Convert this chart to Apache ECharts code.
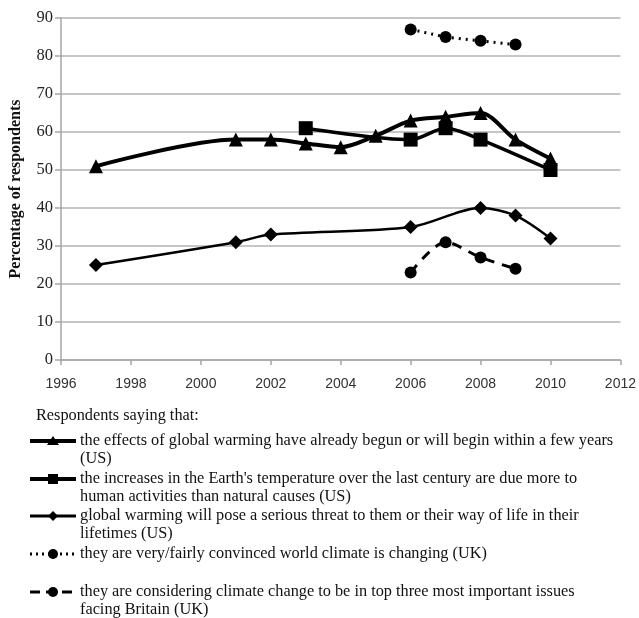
<!DOCTYPE html>
<html><head><meta charset="utf-8">
<script src="https://cdn.jsdelivr.net/npm/echarts@6/dist/echarts.min.js"></script>
<style>html,body{margin:0;padding:0;background:#fff}#c{width:639px;height:618px}</style>
</head><body><div id="c"></div>
<script>
const years1 = [1997, 2001, 2002, 2003, 2004, 2005, 2006, 2007, 2008, 2009, 2010];
const effects = [51, 58, 58, 57, 56, 59, 63, 64, 65, 58, 53];
const years2 = [2003, 2006, 2007, 2008, 2010];
const human = [61, 58, 61, 58, 50];
const years3 = [1997, 2001, 2002, 2006, 2008, 2009, 2010];
const threat = [25, 31, 33, 35, 40, 38, 32];
const years4 = [2006, 2007, 2008, 2009];
const convinced = [87, 85, 84, 83];
const years5 = [2006, 2007, 2008, 2009];
const topThree = [23, 31, 27, 24];
const legendTitle = 'Respondents saying that:';
const names = [
  'the effects of global warming have already begun or will begin within a few years\n(US)',
  'the increases in the Earth\'s temperature over the last century are due more to\nhuman activities than natural causes (US)',
  'global warming will pose a serious threat to them or their way of life in their\nlifetimes (US)',
  'they are very/fairly convinced world climate is changing (UK)',
  'they are considering climate change to be in top three most important issues\nfacing Britain (UK)'
];
const FONT = 'Liberation Serif';
const pair = (xs, ys) => xs.map((x, i) => [x, ys[i]]);
const chart = echarts.init(document.getElementById('c'), null, {renderer: 'canvas'});
const triPath = 'path://M0,-1L1,0.75L-1,0.75Z';
const diaPath = 'path://M0,-1L1,0L0,1L-1,0Z';
function legendItem(i, y, symbol, lineType, width) {
  const els = [];
  els.push({type: 'line', shape: {x1: 30, y1: y, x2: 76, y2: y},
    style: {stroke: '#000', lineWidth: width, lineDash: lineType}});
  if (symbol === 'tri') els.push({type: 'polygon', shape: {points: [[53, y - 5], [59, y + 4], [47, y + 4]]}, style: {fill: '#000'}});
  if (symbol === 'sq') els.push({type: 'rect', shape: {x: 48, y: y - 5, width: 10, height: 10}, style: {fill: '#000'}});
  if (symbol === 'dia') els.push({type: 'polygon', shape: {points: [[53, y - 5], [58, y], [53, y + 5], [48, y]]}, style: {fill: '#000'}});
  if (symbol === 'circ') els.push({type: 'circle', shape: {cx: 53, cy: y, r: 5}, style: {fill: '#000'}});
  els.push({type: 'text', x: 80, y: y - 9, style: {text: names[i], font: '16.3px "' + FONT + '"', fill: '#111', lineHeight: 18}});
  return els;
}
const graphic = [
  {type: 'text', x: 36, y: 408, style: {text: legendTitle, font: '16.3px "' + FONT + '"', fill: '#111'}}
].concat(
  legendItem(0, 441, 'tri', null, 4),
  legendItem(1, 479, 'sq', null, 4),
  legendItem(2, 516, 'dia', null, 3),
  legendItem(3, 554, 'circ', [2, 4], 3),
  legendItem(4, 592, 'circ', [10, 6], 3)
);
chart.setOption({
  animation: false,
  grid: {left: 57, right: 17, top: 18, bottom: 258},
  xAxis: {type: 'value', min: 1996, max: 2012, interval: 2,
    axisLine: {show: true, lineStyle: {color: '#a6a6a6', width: 1.5}},
    axisTick: {show: true, length: 5, lineStyle: {color: '#a6a6a6', width: 1.5}},
    splitLine: {show: false},
    axisLabel: {color: '#333', fontFamily: 'Liberation Sans', fontSize: 14, margin: 17,
      formatter: v => String(v)}},
  yAxis: {type: 'value', min: 0, max: 90, interval: 10,
    name: 'Percentage of respondents', nameLocation: 'middle', nameGap: 37,
    nameTextStyle: {fontFamily: FONT, fontWeight: 'bold', fontSize: 16, color: '#111'},
    axisLine: {show: true, lineStyle: {color: '#a6a6a6', width: 1.5}},
    axisTick: {show: true, length: 6, lineStyle: {color: '#a6a6a6', width: 1.5}},
    splitLine: {show: true, lineStyle: {color: '#b3b3b3', width: 1.5}},
    axisLabel: {color: '#222', fontFamily: FONT, fontSize: 16.5, margin: 8}},
  graphic: graphic,
  series: [
    {type: 'line', name: 'effects', data: pair(years1, effects), smooth: 0.3,
      lineStyle: {color: '#000', width: 4}, itemStyle: {color: '#000'},
      symbol: triPath, symbolSize: 14, z: 5},
    {type: 'line', name: 'human', data: pair(years2, human), smooth: 0.3,
      lineStyle: {color: '#000', width: 3.5}, itemStyle: {color: '#000'},
      symbol: 'rect', symbolSize: 14, z: 4},
    {type: 'line', name: 'threat', data: pair(years3, threat), smooth: 0.3,
      lineStyle: {color: '#000', width: 2.5}, itemStyle: {color: '#000'},
      symbol: diaPath, symbolSize: 14},
    {type: 'line', name: 'convinced', data: pair(years4, convinced), smooth: false,
      lineStyle: {color: '#000', width: 3, type: [2, 5]}, itemStyle: {color: '#000'},
      symbol: 'circle', symbolSize: 12},
    {type: 'line', name: 'topThree', data: pair(years5, topThree), smooth: 0.3,
      lineStyle: {color: '#000', width: 3, type: [10, 8]}, itemStyle: {color: '#000'},
      symbol: 'circle', symbolSize: 12}
  ]
});
</script></body></html>
